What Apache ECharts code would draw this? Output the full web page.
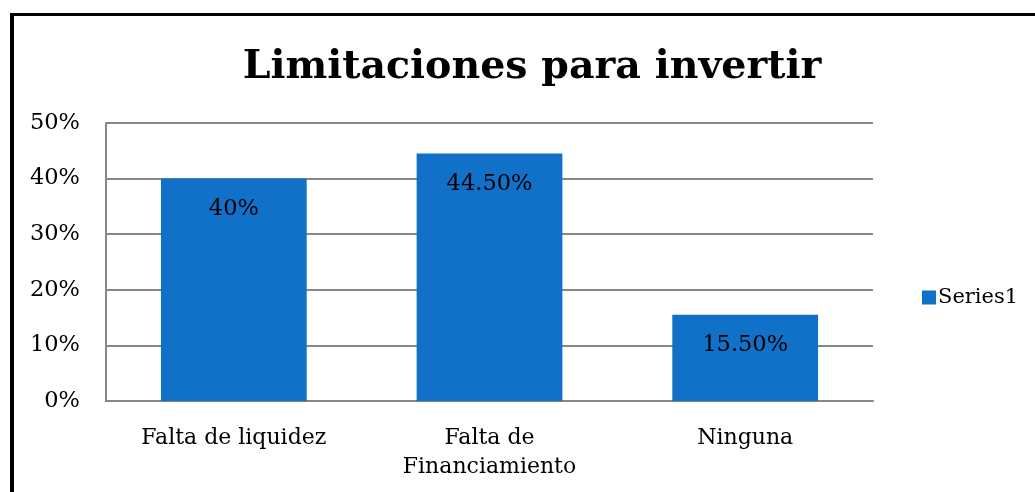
<!DOCTYPE html>
<html>
<head>
<meta charset="utf-8">
<script src="https://cdn.jsdelivr.net/npm/echarts@6/dist/echarts.min.js"></script>
<style>
  html, body { margin: 0; padding: 0; background: #fff; overflow: hidden; }
  #chart { position: absolute; left: 0; top: 0; width: 1035px; height: 492px; }
  #frame { position: absolute; left: 10px; top: 13px; width: 1021px; height: 476px;
           border-top: 3px solid #000; border-left: 4px solid #000; pointer-events: none; }
</style>
</head>
<body>
<div id="chart"></div>
<div id="frame"></div>
<script>
var categories = ['Falta de liquidez', 'Falta de\nFinanciamiento', 'Ninguna'];
var values = [40, 44.5, 15.5];
var valueLabels = ['40%', '44.50%', '15.50%'];
var yTicks = [0, 10, 20, 30, 40, 50];

var font = '"DejaVu Serif", serif';
var myChart = echarts.init(document.getElementById('chart'));

var option = {
  animation: false,
  title: {
    text: 'Limitaciones para invertir',
    left: 527,
    top: 43,
    textAlign: 'center',
    textStyle: { fontFamily: font, fontWeight: 'bold', fontSize: 39.5, color: '#000' }
  },
  legend: {
    data: ['Series1'],
    orient: 'vertical',
    left: 917,
    top: 282,
    itemWidth: 14,
    itemHeight: 14,
    itemGap: 6,
    icon: 'rect',
    textStyle: { fontFamily: font, fontSize: 21, color: '#000', padding: [0, 0, 0, -3] }
  },
  grid: { left: 106, top: 123, right: 162, bottom: 91 },
  xAxis: {
    type: 'category',
    data: categories,
    axisLine: { lineStyle: { color: '#868686', width: 2 } },
    axisTick: { show: false },
    axisLabel: {
      fontFamily: font, fontSize: 22, color: '#000', margin: 23, lineHeight: 29
    }
  },
  yAxis: {
    type: 'value',
    min: yTicks[0],
    max: yTicks[yTicks.length - 1],
    interval: 10,
    axisLine: { show: true, lineStyle: { color: '#868686', width: 2 } },
    axisTick: { show: false },
    splitLine: { lineStyle: { color: '#868686', width: 2 } },
    axisLabel: {
      fontFamily: font, fontSize: 22.5, color: '#000', margin: 26,
      formatter: '{value}%'
    }
  },
  series: [{
    name: 'Series1',
    type: 'bar',
    data: values,
    barWidth: '57%',
    itemStyle: { color: '#1170C8' },
    label: {
      show: true,
      position: 'insideTop',
      distance: 19,
      fontFamily: font,
      fontSize: 22.5,
      color: '#000',
      formatter: function (p) { return valueLabels[p.dataIndex]; }
    }
  }]
};

myChart.setOption(option);
</script>
</body>
</html>
